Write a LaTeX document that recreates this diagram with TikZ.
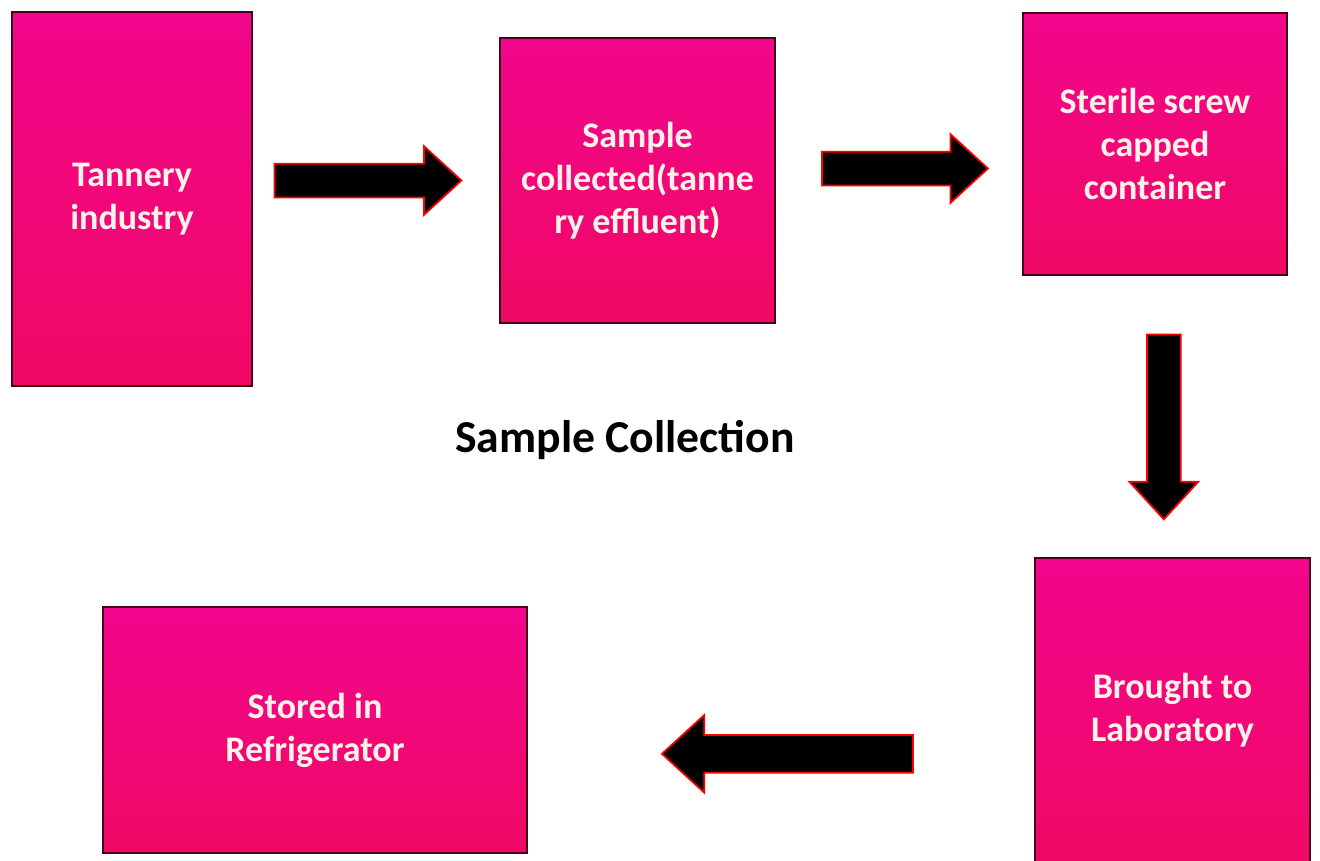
\documentclass[tikz,border=0pt]{standalone}
\usepackage{fontspec}
\setmainfont{Carlito}
\usepackage{tikz}
\usetikzlibrary{shapes.arrows, positioning, calc}

\definecolor{boxtop}{RGB}{242,6,140}
\definecolor{boxbot}{RGB}{240,8,100}
\definecolor{boxedge}{RGB}{70,0,25}
\definecolor{boxtext}{RGB}{255,242,232}

\begin{document}
\begin{tikzpicture}[
    x=0.02cm, y=-0.02cm,
    box/.style={rectangle, draw=boxedge, line width=1.1pt, top color=boxtop, bottom color=boxbot, align=center, text=boxtext, font=\fontsize{20.5}{24.5}\selectfont\bfseries},
    blockarr/.style={single arrow, draw=red, fill=black, line width=1pt, inner sep=0.32cm, single arrow head extend=0.35cm, single arrow tip angle=85},
  ]
    \useasboundingbox (0,0) rectangle (1320,860);

    % Top row
    \node[box, minimum width=4.8cm, minimum height=7.48cm] (tan) at (132,199) {Tannery\\industry};
    \node[box, minimum width=5.5cm, minimum height=5.7cm] (samp) at (637.5,180.5) {Sample\\collected(tanne\\ry effluent)};
    \node[box, minimum width=5.28cm, minimum height=5.24cm] (ster) at (1155,144) {Sterile screw\\capped\\container};

    % Bottom row
    \node[box, minimum width=5.5cm, minimum height=6.1cm] (brought) at (1172.5,710) {Brought to\\Laboratory};
    \node[box, minimum width=8.48cm, minimum height=4.92cm] (stored) at (315,730) {Stored in\\Refrigerator};

    % Title
    \node[font=\fontsize{26}{30}\selectfont\bfseries] (title) at (625,440) {Sample Collection};

    % Arrows
    \path (tan.east |- samp.west) -- (samp.west) node[blockarr, pos=0.43, minimum height=3.74cm] (a1) {};
    \path (samp.east) -- (ster.west |- samp.east) node[blockarr, pos=0.487, yshift=0.24cm, minimum height=3.32cm] (a2) {};
    \path (ster.south) -- (brought.north) node[blockarr, pos=0.505, shape border rotate=270, minimum height=3.7cm] (a3) {};
    \path (brought.west) -- (stored.east) node[blockarr, pos=0.467, yshift=-0.69cm, shape border rotate=180, inner sep=0.36cm, single arrow head extend=0.4cm, minimum height=5.02cm] (a4) {};
  \end{tikzpicture}
\end{document}
